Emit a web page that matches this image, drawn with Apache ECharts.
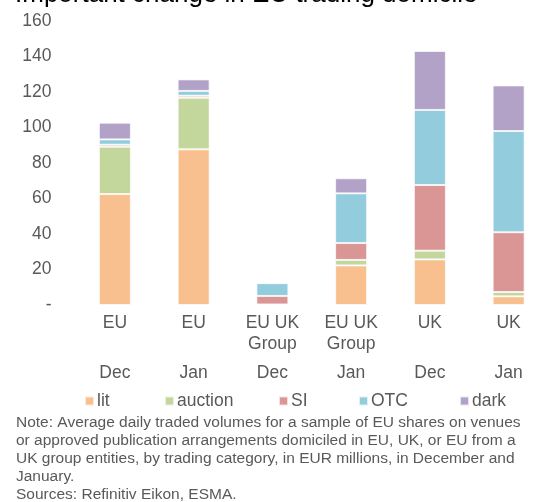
<!DOCTYPE html>
<html>
<head>
<meta charset="utf-8">
<script src="https://cdn.jsdelivr.net/npm/echarts@6/dist/echarts.min.js"></script>
<style>
  html, body { margin: 0; padding: 0; background: #fff; }
  #main { width: 548px; height: 502px; }
</style>
</head>
<body>
<div id="main"></div>
<script>
// domicile groups and months
var places = ['EU', 'EU', 'EU UK\nGroup', 'EU UK\nGroup', 'UK', 'UK'];
var months = ['Dec', 'Jan', 'Dec', 'Jan', 'Dec', 'Jan'];
var yTicks = { min: 0, max: 160, step: 20 };

// EUR millions
var lit     = [62.5, 87.7, 0.2, 22.3, 25.7, 4.9];
var auction = [26.7, 29.1, 0.1, 3.1, 4.9, 2.4];
var si      = [1.1, 1.1, 4.8, 9.5, 37.0, 33.7];
var otc     = [3.0, 2.7, 7.2, 28.0, 42.3, 57.0];
var dark    = [9.4, 6.5, 0.3, 8.5, 33.2, 25.7];

var names  = ['lit', 'auction', 'SI', 'OTC', 'dark'];
var colors = ['#F9C08F', '#C3D69B', '#D99694', '#93CDDD', '#B3A2C7'];

var font = '"Liberation Sans", Arial, sans-serif';
var grey = '#595959';
var fs = 17.5;

function bar(name, data, color) {
  return {
    name: name,
    type: 'bar',
    stack: 'all',
    barWidth: 32,
    data: data,
    itemStyle: { color: color, borderColor: 'rgba(255,255,255,0.7)', borderWidth: 1 }
  };
}

// Excel spreads legend entries over fixed slots, so one legend per entry
var legendLeft = [79, 159, 273, 353, 454];
var legends = names.map(function (n, i) {
  return {
    left: legendLeft[i],
    top: 387,
    itemWidth: 9,
    itemHeight: 9,
    icon: 'rect',
    textStyle: { fontSize: fs, color: grey, fontFamily: font, padding: [0, 0, 0, -2] },
    data: [n]
  };
});

var myChart = echarts.init(document.getElementById('main'));
var option = {
  animation: false,
  textStyle: { fontFamily: font },
  grid: { left: 75.5, right: -13.5, top: 21, bottom: 197 },
  legend: legends,
  xAxis: [
    {
      type: 'category',
      data: places,
      axisLine: { show: false },
      axisTick: { show: false },
      axisLabel: { color: grey, fontSize: fs, lineHeight: 21, margin: 8, fontFamily: font }
    },
    {
      type: 'category',
      data: months,
      position: 'bottom',
      offset: 50,
      axisLine: { show: false },
      axisTick: { show: false },
      axisLabel: { color: grey, fontSize: fs, lineHeight: 21, margin: 8, fontFamily: font }
    }
  ],
  yAxis: {
    type: 'value',
    min: yTicks.min,
    max: yTicks.max,
    interval: yTicks.step,
    axisLine: { show: false },
    axisTick: { show: false },
    splitLine: { show: false },
    axisLabel: {
      color: grey, fontSize: fs, margin: 24, fontFamily: font,
      formatter: function (v) { return v === 0 ? '-' : v; }
    }
  },
  series: [
    bar(names[0], lit, colors[0]),
    bar(names[1], auction, colors[1]),
    bar(names[2], si, colors[2]),
    bar(names[3], otc, colors[3]),
    bar(names[4], dark, colors[4])
  ],
  graphic: [
    {
      type: 'text', left: 15, top: -18,
      style: { text: 'Important change in EU trading domicile', fill: '#000', font: '26px ' + font }
    },
    {
      type: 'text', left: 16, top: 414,
      style: {
        text: 'Note: Average daily traded volumes for a sample of EU shares on venues\n' +
              'or approved publication arrangements domiciled in EU, UK, or EU from a\n' +
              'UK group entities, by trading category, in EUR millions, in December and\n' +
              'January.\n' +
              'Sources: Refinitiv Eikon, ESMA.',
        fill: grey, font: '15.5px ' + font, lineHeight: 18
      }
    }
  ]
};
myChart.setOption(option);
</script>
</body>
</html>
